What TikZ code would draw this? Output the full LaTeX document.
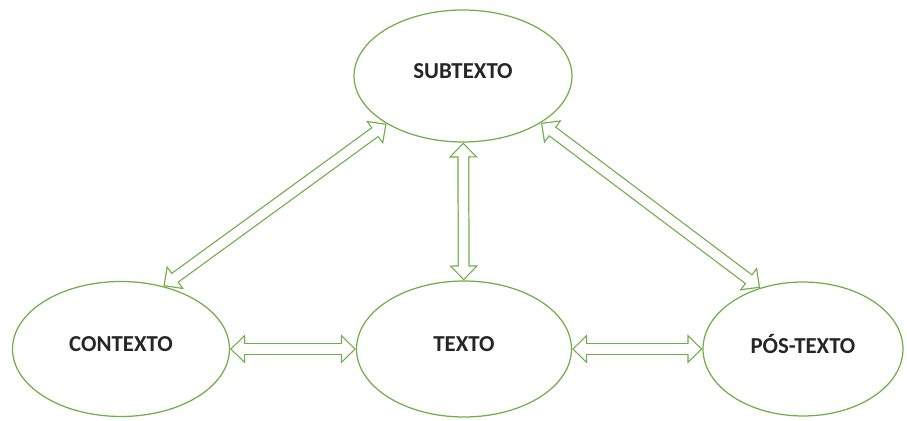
\documentclass[tikz,border=0pt]{standalone}
\usepackage{fontspec}
\setmainfont{Carlito}
\usetikzlibrary{arrows.meta,shapes.geometric}
\definecolor{leaf}{RGB}{112,173,71}
\definecolor{ink}{RGB}{38,38,38}
\tikzset{
  bubble/.style={ellipse, draw=leaf, line width=0.7pt, inner sep=0pt,
    text=ink, font=\fontsize{13}{15}\selectfont\bfseries, text depth=0.2cm},
  twoway/.style={
    preaction={draw=leaf, line width=6.8pt, shorten <=0pt, shorten >=0pt,
      {Triangle[width=16pt,length=8.5pt]}-{Triangle[width=16pt,length=8.5pt]}},
    draw=white, line width=5.4pt, shorten <=1pt, shorten >=1pt,
    {Triangle[width=12.8pt,length=6.8pt]}-{Triangle[width=12.8pt,length=6.8pt]}}
}
\begin{document}
\begin{tikzpicture}[x=0.02cm,y=-0.02cm]
 \useasboundingbox (0,0) rectangle (907,421);

 \node[bubble, minimum width=4.36cm, minimum height=2.64cm] (sub)   at (463,76)  {SUBTEXTO};
 \node[bubble, minimum width=4.34cm, minimum height=2.70cm] (ctx)   at (121,349) {CONTEXTO};
 \node[bubble, minimum width=4.30cm, minimum height=2.72cm] (texto) at (464,349) {TEXTO};
 \node[bubble, minimum width=4.00cm, minimum height=2.68cm] (pos)   at (803,349) {PÓS-TEXTO};

% ARROWS

 \draw[twoway] (ctx.56) -- (sub.212);
 \draw[twoway] (sub.329) -- (pos.125);
 \draw[twoway] (sub) -- (texto);
 \draw[twoway] (ctx) -- (texto);
 \draw[twoway] (texto) -- (pos);

\end{tikzpicture}
\end{document}
